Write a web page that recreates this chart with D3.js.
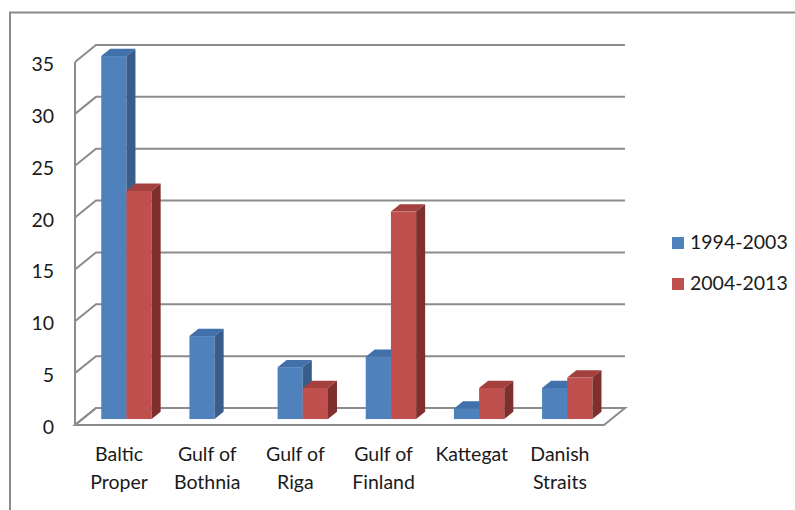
<!DOCTYPE html>
<html>
<head>
<meta charset="utf-8">
<script src="https://cdn.jsdelivr.net/npm/d3@7"></script>
<style>
  body { margin: 0; background: #fff; }
  text { font-family: Lato, "Open Sans", sans-serif; fill: #1a1a1a; }
</style>
</head>
<body>
<div class="canva"></div>
<script>
var width = 795;
var height = 510;

// data
const categories = [['Baltic', 'Proper'], ['Gulf of', 'Bothnia'], ['Gulf of', 'Riga'],
                    ['Gulf of', 'Finland'], ['Kattegat'], ['Danish', 'Straits']];
const series = ['1994-2003', '2004-2013'];
const values1994 = [35, 8, 5, 6, 1, 3];
const values2004 = [22, 0, 3, 20, 3, 4];
const yTicks = [0, 5, 10, 15, 20, 25, 30, 35];

const colors = {
  '1994-2003': { front: '#4f81bd', top: '#4170aa', side: '#385d8a' },
  '2004-2013': { front: '#c0504d', top: '#a4403d', side: '#7f2f2d' }
};

// 3d depth of the plot (back wall offset)
const dx = 21, dy = -17;
const f1 = 0.35, f2 = 0.78;   // bar front / back as fraction of depth

const canvas = d3.select('.canva');
const svg = canvas.append('svg')
            .attr('width', width)
            .attr('height', height);

// outer frame
svg.append('path')
   .attr('d', 'M10,510 L10,12.5 L795,12.5')
   .attr('fill', 'none')
   .attr('stroke', '#8a8a8a')
   .attr('stroke-width', 2);

const x = d3.scaleBand()
            .domain(d3.range(categories.length))
            .range([75, 604]);

const xs = d3.scaleBand()
             .domain(series)
             .range([0, x.bandwidth()])
             .paddingOuter(0.75);

const y = d3.scaleLinear()
            .domain([0, 35])
            .range([425, 62]);

const gridColor = '#8c8c8c';

// floor
const x0 = x.range()[0], x1 = x.range()[1];
svg.append('path')
   .attr('d', `M${x0},${y(0)} L${x1},${y(0)} L${x1 + dx},${y(0) + dy} L${x0 + dx},${y(0) + dy} Z`)
   .attr('fill', '#fff')
   .attr('stroke', gridColor)
   .attr('stroke-width', 2);

// gridlines: left wall diagonal + back wall horizontal
const grid = svg.append('g');
yTicks.forEach(t => {
  grid.append('path')
      .attr('d', `M${x0},${y(t)} L${x0 + dx},${y(t) + dy} L${x1 + dx},${y(t) + dy}`)
      .attr('fill', 'none')
      .attr('stroke', gridColor)
      .attr('stroke-width', 2);
});

// left axis line
svg.append('line')
   .attr('x1', x0).attr('x2', x0)
   .attr('y1', y(35)).attr('y2', y(0))
   .attr('stroke', gridColor)
   .attr('stroke-width', 2);

// tick labels
svg.append('g').selectAll('text')
   .data(yTicks)
   .enter().append('text')
   .attr('x', 54)
   .attr('y', d => y(d) + 4)
   .attr('text-anchor', 'end')
   .attr('dominant-baseline', 'middle')
   .style('font-size', '19.5px')
   .text(d => d);

// bars
const rows = [];
categories.forEach((c, i) => {
  rows.push({ i: i, s: series[0], v: values1994[i] });
  rows.push({ i: i, s: series[1], v: values2004[i] });
});

const bars = svg.append('g');
rows.forEach(d => {
  const bx = x(d.i) + xs(d.s);
  const bw = xs.bandwidth();
  const ax = dx * f1, ay = dy * f1;
  const bxo = dx * f2, byo = dy * f2;
  const top = y(d.v), bot = y(0);
  const c = colors[d.s];
  if (d.v <= 0) return;

  // front
  bars.append('rect')
      .attr('x', bx + ax).attr('y', top + ay)
      .attr('width', bw).attr('height', bot - top)
      .attr('fill', c.front);
  // top
  bars.append('path')
      .attr('d', `M${bx + ax},${top + ay} L${bx + bw + ax},${top + ay} L${bx + bw + bxo},${top + byo} L${bx + bxo},${top + byo} Z`)
      .attr('fill', c.top);
  // side
  bars.append('path')
      .attr('d', `M${bx + bw + ax},${top + ay} L${bx + bw + bxo},${top + byo} L${bx + bw + bxo},${bot + byo} L${bx + bw + ax},${bot + ay} Z`)
      .attr('fill', c.side);
});

// category labels
const labels = svg.append('g');
categories.forEach((c, i) => {
  const t = labels.append('text')
      .attr('x', x(i) + x.bandwidth() / 2)
      .attr('y', 461)
      .attr('text-anchor', 'middle')
      .style('font-size', '19.5px');
  c.forEach((line, k) => {
    t.append('tspan')
     .attr('x', x(i) + x.bandwidth() / 2)
     .attr('dy', k == 0 ? 0 : 28)
     .text(line);
  });
});

// legend
const legend = svg.append('g');
series.forEach((s, k) => {
  const ly = 243 + k * 41;
  legend.append('rect')
        .attr('x', 672).attr('y', ly - 6)
        .attr('width', 12).attr('height', 12)
        .attr('fill', colors[s].front);
  legend.append('text')
        .attr('x', 690).attr('y', ly + 1)
        .attr('dominant-baseline', 'middle')
        .style('font-size', '19.5px')
        .text(s);
});
</script>
</body>
</html>
